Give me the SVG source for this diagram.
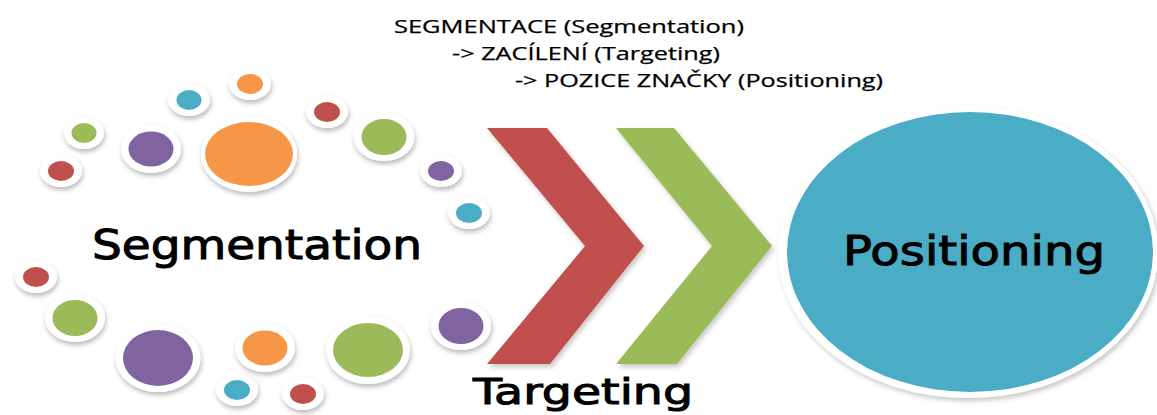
<svg xmlns="http://www.w3.org/2000/svg" width="1157" height="415" viewBox="0 0 1157 415">
  <defs>
    <filter id="shadow" x="-30%" y="-30%" width="160%" height="170%">
      <feDropShadow dx="1" dy="3" stdDeviation="2.5" flood-color="#000" flood-opacity="0.28"/>
    </filter>
    <filter id="soft" x="-10%" y="-10%" width="125%" height="125%">
      <feDropShadow dx="2" dy="3" stdDeviation="2.5" flood-color="#000" flood-opacity="0.22"/>
    </filter>
  </defs>
  <style>
    .ring { fill: #ffffff; filter: url(#shadow); }
    .red { fill: #C0504D; }
    .green { fill: #9BBB59; }
    .purple { fill: #8064A2; }
    .orange { fill: #F79646; }
    .blue { fill: #4BACC6; }
    .big { font-family: "DejaVu Sans", Verdana, sans-serif; fill: #000; stroke: #000; stroke-width: 1; }
    .note { font-family: "Open Sans", "Noto Sans", sans-serif; font-size: 18px; fill: #000; stroke: #000; stroke-width: 0.25; }
  </style>

  <rect width="1157" height="415" fill="#ffffff"/>

  <!-- heading -->
  <g id="heading">
    <text class="note" x="394" y="33" textLength="350" lengthAdjust="spacingAndGlyphs">SEGMENTACE (Segmentation)</text>
    <text class="note" x="452" y="60" textLength="268" lengthAdjust="spacingAndGlyphs">-&gt; ZACÍLENÍ (Targeting)</text>
    <text class="note" x="515" y="87" textLength="368" lengthAdjust="spacingAndGlyphs">-&gt; POZICE ZNAČKY (Positioning)</text>
  </g>

  <!-- segment bubbles -->
  <g id="segments">
    <ellipse class="ring" cx="250" cy="84" rx="21" ry="16"/><ellipse class="orange" cx="250" cy="84" rx="13" ry="10"/>
    <ellipse class="ring" cx="189" cy="100" rx="21" ry="16"/><ellipse class="blue" cx="189" cy="100" rx="12.5" ry="10"/>
    <ellipse class="ring" cx="327" cy="112" rx="21" ry="16"/><ellipse class="red" cx="327" cy="112" rx="13" ry="10"/>
    <ellipse class="ring" cx="84" cy="133" rx="20" ry="16"/><ellipse class="green" cx="84" cy="133" rx="12.5" ry="10"/>
    <ellipse class="ring" cx="61" cy="171" rx="21" ry="16"/><ellipse class="red" cx="61" cy="171" rx="13" ry="10"/>
    <ellipse class="ring" cx="151" cy="149" rx="30" ry="24"/><ellipse class="purple" cx="151" cy="149" rx="22.5" ry="17.5"/>
    <ellipse class="ring" cx="249" cy="154" rx="48" ry="38"/><ellipse class="orange" cx="249" cy="154" rx="44" ry="32"/>
    <ellipse class="ring" cx="384" cy="137" rx="30.5" ry="24"/><ellipse class="green" cx="384" cy="137" rx="22.5" ry="18"/>
    <ellipse class="ring" cx="441" cy="171" rx="21" ry="16"/><ellipse class="purple" cx="441" cy="171" rx="13" ry="10"/>
    <ellipse class="ring" cx="469" cy="213" rx="21" ry="16"/><ellipse class="blue" cx="469" cy="213" rx="13" ry="10"/>

    <ellipse class="ring" cx="36" cy="277" rx="21" ry="16"/><ellipse class="red" cx="36" cy="277" rx="13" ry="10"/>
    <ellipse class="ring" cx="75" cy="318" rx="30" ry="24"/><ellipse class="green" cx="75" cy="318" rx="22.5" ry="18"/>
    <ellipse class="ring" cx="158" cy="358" rx="42.5" ry="34"/><ellipse class="purple" cx="158" cy="358" rx="35" ry="28"/>
    <ellipse class="ring" cx="265" cy="348" rx="30" ry="24"/><ellipse class="orange" cx="265" cy="348" rx="22.5" ry="17.5"/>
    <ellipse class="ring" cx="368" cy="350" rx="42" ry="34"/><ellipse class="green" cx="368" cy="350" rx="35" ry="27"/>
    <ellipse class="ring" cx="461" cy="326" rx="30" ry="24"/><ellipse class="purple" cx="461" cy="326" rx="22.5" ry="18"/>
    <ellipse class="ring" cx="237" cy="390" rx="21" ry="16"/><ellipse class="blue" cx="237" cy="390" rx="13" ry="10"/>
    <ellipse class="ring" cx="303" cy="394" rx="21" ry="16"/><ellipse class="red" cx="303" cy="394" rx="13" ry="10"/>

    <text class="big" x="92" y="259" font-size="40" textLength="330" lengthAdjust="spacingAndGlyphs">Segmentation</text>
  </g>

  <!-- chevron arrows -->
  <g id="connectors">
    <polygon class="red" filter="url(#soft)" points="487,128 547,128 644,246 550,364 487,364 585,246"/>
    <polygon class="green" filter="url(#soft)" points="616,128 674,128 772,246 677,364 616,364 712,246"/>
  </g>

  <g id="targeting">
    <text class="big" x="473" y="404" font-size="36" textLength="220" lengthAdjust="spacingAndGlyphs">Targeting</text>
  </g>

  <!-- positioning disc -->
  <g id="positioning">
    <ellipse cx="968" cy="252" rx="190" ry="146" fill="#ffffff" filter="url(#soft)"/>
    <ellipse class="blue" cx="970" cy="252" rx="183" ry="140"/>
    <text class="big" x="843" y="265" font-size="41" textLength="262" lengthAdjust="spacingAndGlyphs">Positioning</text>
  </g>
</svg>
